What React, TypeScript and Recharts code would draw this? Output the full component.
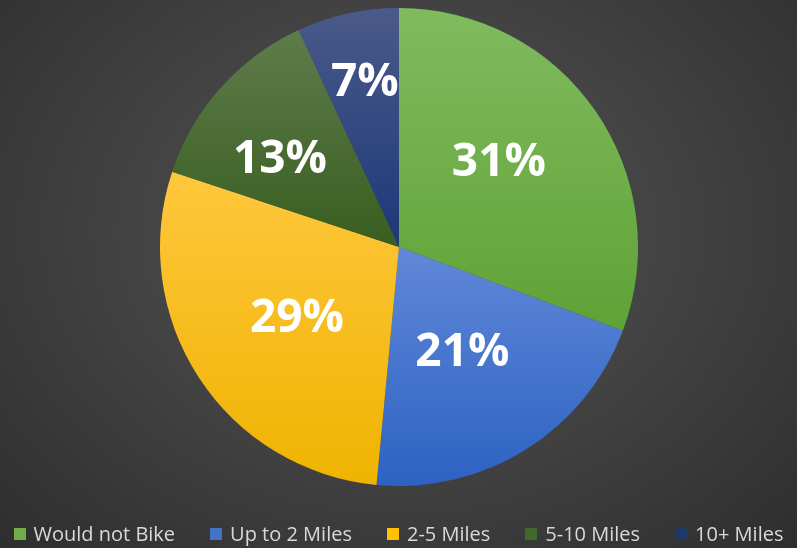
import { PieChart, Pie, Cell, Legend } from "recharts";

const categories = ["Would not Bike", "Up to 2 Miles", "2-5 Miles", "5-10 Miles", "10+ Miles"];
const shares = [30.7, 20.8, 28.6, 13.0, 6.9];

const data = categories.map((name, i) => ({ name, value: shares[i] }));

// top/bottom colours of each slice gradient
const gradients = [
  ["#80bb5e", "#5fa236"],
  ["#6188d8", "#2c62c2"],
  ["#ffc73d", "#efb300"],
  ["#5f7c4c", "#385e1f"],
  ["#4a5a8a", "#1d3878"],
];
const legendColors = ["#70ad47", "#4472c4", "#ffc000", "#43682b", "#203864"];
// label placement tweaks (fraction of radius, angle shift in degrees)
const labelRadius = [0.56, 0.5, 0.51, 0.63, 0.72];
const labelShift = [7, 0, 0, 4, -1];

const RADIAN = Math.PI / 180;

function renderLabel(props: any) {
  const { cx, cy, midAngle, outerRadius, index, percent } = props;
  const r = outerRadius * labelRadius[index];
  const a = (midAngle + labelShift[index]) * RADIAN;
  const x = cx + r * Math.cos(-a);
  const y = cy + r * Math.sin(-a);
  return (
    <text
      x={x}
      y={y}
      fill="#ffffff"
      textAnchor="middle"
      dominantBaseline="central"
      fontFamily="'Open Sans', sans-serif"
      fontWeight={700}
      fontSize={46}
    >
      {`${Math.round(percent * 100)}%`}
    </text>
  );
}

function renderLegend() {
  return (
    <div
      style={{
        display: "flex",
        justifyContent: "center",
        gap: 35,
        fontFamily: "'Open Sans', sans-serif",
        fontSize: 20,
        color: "#d9d9d9",
        alignItems: "center",
      }}
    >
      {categories.map((c, i) => (
        <div key={c} style={{ display: "flex", alignItems: "center" }}>
          <span
            style={{
              display: "inline-block",
              width: 12,
              height: 12,
              background: legendColors[i],
              marginRight: 8,
            }}
          />
          <span>{c}</span>
        </div>
      ))}
    </div>
  );
}

export default function App() {
  return (
    <div
      style={{
        position: "fixed",
        left: 0,
        top: 0,
        width: 797,
        height: 548,
        background: "radial-gradient(ellipse at 50% 42%, #4c4c4c 0%, #444444 45%, #2e2e2e 100%)",
      }}
    >
      <PieChart width={797} height={548} margin={{ top: 0, right: 0, bottom: 0, left: 0 }}>
        <defs>
          {gradients.map(([a, b], i) => (
            <linearGradient key={i} id={`slice${i}`} x1="0" y1="0" x2="0" y2="1">
              <stop offset="0%" stopColor={a} />
              <stop offset="100%" stopColor={b} />
            </linearGradient>
          ))}
        </defs>
        <Pie
          data={data}
          dataKey="value"
          nameKey="name"
          cx={399}
          cy={247}
          outerRadius={239}
          startAngle={90}
          endAngle={-270}
          stroke="none"
          label={renderLabel}
          labelLine={false}
          isAnimationActive={false}
        >
          {data.map((d, i) => (
            <Cell key={d.name} fill={`url(#slice${i})`} />
          ))}
        </Pie>
        <Legend content={renderLegend} wrapperStyle={{ left: 0, top: 520, width: 797 }} />
      </PieChart>
    </div>
  );
}
